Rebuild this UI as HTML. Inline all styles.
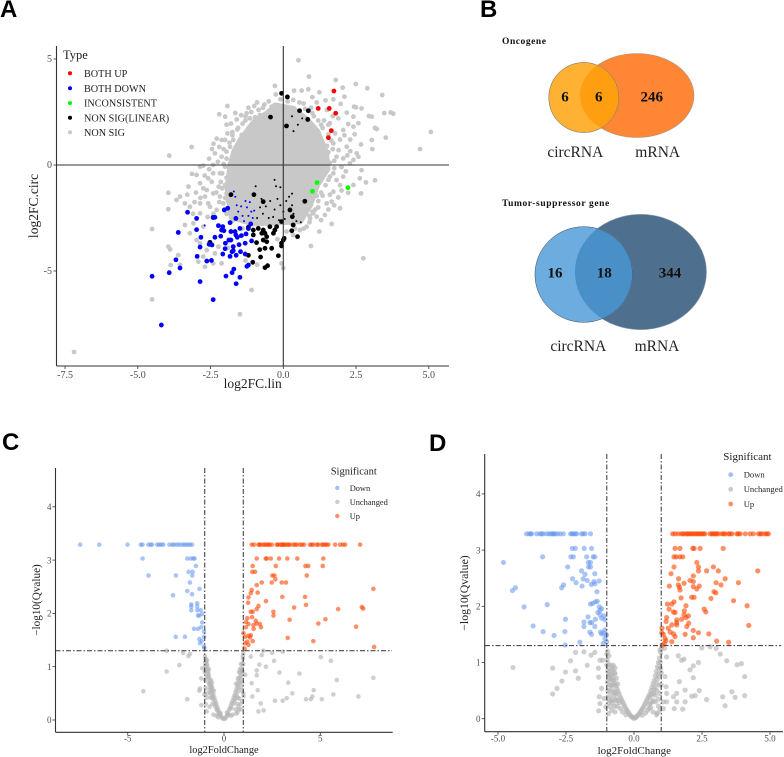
<!DOCTYPE html>
<html lang="en">
<head>
<meta charset="utf-8">
<title>circRNA and mRNA expression panels</title>
<style>
html,body{margin:0;padding:0;background:#fff;width:784px;height:757px;overflow:hidden}
svg{display:block;filter:blur(.35px)}
text{font-family:"Liberation Serif",serif}
.panel-letter{font-family:"Liberation Sans",sans-serif;font-weight:700;font-size:24px;fill:#000}
</style>
</head>
<body>
<svg id="fig" xmlns="http://www.w3.org/2000/svg" width="784" height="757" viewBox="0 0 784 757">
  <rect width="784" height="757" fill="#fff"/>
  <text class="panel-letter" x="0" y="17">A</text>
  <text class="panel-letter" x="480" y="17">B</text>
  <text class="panel-letter" x="2" y="450">C</text>
  <text class="panel-letter" x="429" y="451">D</text>

  <g id="panelA"></g>

  <g>
    <text x="63" y="59" font-size="12.5" fill="#222">Type</text>
    <circle cx="70" cy="73.3" r="2" fill="#ff0000"/>
    <text x="84" y="77" font-size="10.2" fill="#222">BOTH UP</text>
    <circle cx="70" cy="88.3" r="2" fill="#0000ff"/>
    <text x="84" y="92" font-size="10.2" fill="#222">BOTH DOWN</text>
    <circle cx="70" cy="103" r="2" fill="#00ff00"/>
    <text x="84" y="106.700" font-size="10.2" fill="#222">INCONSISTENT</text>
    <circle cx="70" cy="117.700" r="2" fill="#000"/>
    <text x="84" y="121.400" font-size="10.2" fill="#222">NON SIG(LINEAR)</text>
    <circle cx="70" cy="132.300" r="2" fill="#c8c8c8"/>
    <text x="84" y="136" font-size="10.2" fill="#222">NON SIG</text>
  </g>
  <text x="252.700" y="388" font-size="13.500" text-anchor="middle" fill="#222">log2FC.lin</text>
  <text transform="translate(38 206) rotate(-90)" font-size="13.500" text-anchor="middle" fill="#222">log2FC.circ</text>

  <g>
    <defs>
      <clipPath id="oncoClip"><circle cx="583.800" cy="97.500" r="35"/></clipPath>
      <clipPath id="tumorClip"><ellipse cx="583.700" cy="274.500" rx="48.700" ry="47.800"/></clipPath>
    </defs>
    <text x="502" y="44" font-size="9.500" font-weight="700" fill="#111" letter-spacing=".55">Oncogene</text>
    <ellipse cx="637" cy="95.500" rx="57" ry="42" fill="#ff8634" stroke="#a89a8c" stroke-width=".6"/>
    <circle cx="583.800" cy="97.500" r="35" fill="#ffb133" stroke="#a89a8c" stroke-width=".6"/>
    <ellipse cx="637" cy="95.500" rx="57" ry="42" fill="#ff9e10" clip-path="url(#oncoClip)"/>
    <circle cx="583.800" cy="97.500" r="35" fill="none" stroke="#8a7a60" stroke-width=".5"/>
    <text x="565" y="101.500" font-size="15" font-weight="700" text-anchor="middle" fill="#111">6</text>
    <text x="598.700" y="101.500" font-size="15" font-weight="700" text-anchor="middle" fill="#111">6</text>
    <text x="651.700" y="101.500" font-size="15" font-weight="700" text-anchor="middle" fill="#111">246</text>
    <text x="575.300" y="157" font-size="15.500" text-anchor="middle" fill="#222">circRNA</text>
    <text x="657.700" y="157" font-size="15.500" text-anchor="middle" fill="#222">mRNA</text>
  </g>
  <g>
    <text x="502" y="206" font-size="9.500" font-weight="700" fill="#111" letter-spacing=".6">Tumor-suppressor gene</text>
    <ellipse cx="640.700" cy="272" rx="65.800" ry="57.700" fill="#4f6f8e" stroke="#9aa4ad" stroke-width=".6"/>
    <ellipse cx="583.700" cy="274.500" rx="48.700" ry="47.800" fill="#6dacdf" stroke="#9aa4ad" stroke-width=".6"/>
    <ellipse cx="640.700" cy="272" rx="65.800" ry="57.700" fill="#4a90c8" clip-path="url(#tumorClip)"/>
    <ellipse cx="583.700" cy="274.500" rx="48.700" ry="47.800" fill="none" stroke="#3a5a78" stroke-width=".5"/>
    <text x="555" y="277.500" font-size="15" font-weight="700" text-anchor="middle" fill="#111">16</text>
    <text x="604.300" y="277.500" font-size="15" font-weight="700" text-anchor="middle" fill="#111">18</text>
    <text x="670" y="277.500" font-size="15" font-weight="700" text-anchor="middle" fill="#111">344</text>
    <text x="578.300" y="351" font-size="15.500" text-anchor="middle" fill="#222">circRNA</text>
    <text x="657" y="351" font-size="15.500" text-anchor="middle" fill="#222">mRNA</text>
  </g>

  <g id="panelC"></g>
  <g>
    <text x="330.700" y="474.300" font-size="10.500" fill="#222">Significant</text>
    <circle cx="337.300" cy="488" r="2.200" fill="#6495ed" fill-opacity=".6"/>
    <text x="349.700" y="490.800" font-size="8.400" fill="#222">Down</text>
    <circle cx="337.300" cy="502" r="2.200" fill="#b5b5b5" fill-opacity=".7"/>
    <text x="349.700" y="504.800" font-size="8.400" fill="#222">Unchanged</text>
    <circle cx="337.300" cy="516" r="2.200" fill="#ff4500" fill-opacity=".6"/>
    <text x="349.700" y="518.800" font-size="8.400" fill="#222">Up</text>
  </g>
  <text x="224" y="753" font-size="10.400" text-anchor="middle" fill="#222">log2FoldChange</text>
  <text transform="translate(40 600) rotate(-90)" font-size="11.200" text-anchor="middle" fill="#222">−log10(Qvalue)</text>

  <g id="panelD"></g>
  <g>
    <text x="723.300" y="460" font-size="11" fill="#222">Significant</text>
    <circle cx="730.700" cy="474.700" r="2.400" fill="#6495ed" fill-opacity=".6"/>
    <text x="743.700" y="477.500" font-size="8.600" fill="#222">Down</text>
    <circle cx="730.700" cy="489.300" r="2.400" fill="#b5b5b5" fill-opacity=".7"/>
    <text x="743.700" y="492.100" font-size="8.600" fill="#222">Unchanged</text>
    <circle cx="730.700" cy="504" r="2.400" fill="#ff4500" fill-opacity=".6"/>
    <text x="743.700" y="506.800" font-size="8.600" fill="#222">Up</text>
  </g>
  <text x="634.300" y="754" font-size="11" text-anchor="middle" fill="#222">log2FoldChange</text>
  <text transform="translate(468 593) rotate(-90)" font-size="11.800" text-anchor="middle" fill="#222">−log10(Qvalue)</text>
</svg>

<script>
// ---------- Panel A data (log2FC.lin, log2FC.circ) ----------
const aXTicks = [-7.5, -5, -2.5, 0, 2.5, 5];
const aXTickLabels = ['-7.5', '-5.0', '-2.5', '0.0', '2.5', '5.0'];
const aYTicks = [-5, 0, 5];
const aYTickLabels = ['-5', '0', '5'];
// Outline of the saturated central region where grey points fully overplot.
const aGreyCloudOutline = [[-1.95,-1.1],[-1.85,0],[-1.7,0.7],[-1.5,1.2],[-1.2,1.75],[-1,2.1],[-0.6,2.45],[-0.25,2.85],[0.35,2.7],[0.85,2.15],[1.2,1.6],[1.5,0.6],[1.55,-0.2],[1.2,-0.95],[0.95,-1.9],[0.6,-2.7],[-1.05,-2.8],[-1.8,-2.5]];
const aNonSig = [[0.52,4.94],[0.88,4.17],[1.8,4.01],[2.49,3.82],[2.89,3.62],[3.4,3.3],[2.04,3.65],[1.24,3.43],[2.1,3.22],[1.72,3.1],[1.97,2.88],[2.43,2.75],[2.5,2.72],[2.18,2.47],[2.69,2.67],[2.94,2.31],[3.04,2.28],[3.47,2.45],[3.69,2.48],[3.78,2.42],[5.07,1.56],[4.7,0.75],[3.52,1.29],[3.15,1.75],[3.21,1.7],[3.04,1.18],[3.06,0.75],[2.67,0.97],[2.58,1.97],[2.41,2.28],[2.23,1.93],[2.41,1.81],[2.06,1.65],[1.89,2.2],[1.6,1.97],[1.78,1.49],[2.18,0.86],[2.52,0.55],[2.58,0.39],[1.72,1.02],[1.83,0.39],[2.06,0.31],[2.29,0.08],[2.41,0.24],[2.69,-0.24],[3.15,-0.72],[2.84,-0.82],[2.63,-0.63],[2.67,-1.34],[2.23,-1.31],[1.95,-2.04],[1.89,-1.53],[1.66,-1.73],[1.49,-1.81],[1.72,-1.26],[1.43,-2.36],[1.66,-2.78],[1.24,-3.14],[0.95,-3.82],[2.75,-4.4],[2.41,-0.94],[2.06,-0.55],[1.72,-0.39],[1.83,-0.71],[1.5,0.9],[1.3,1.2],[1.55,0.6],[1.6,0.1],[1.55,-0.7],[1.3,-1.3],[1.2,-1.7],[1.1,-2.1],[0.9,-2.4],[1.3,1.9],[1.05,2.3],[0.7,2.9],[0.95,2.7],[1.4,2.1],
[-0.29,3.73],[-0.26,3.33],[0.37,3.51],[0.63,3.51],[0.86,3.57],[0.34,3.07],[-0.4,2.75],[-0.29,2.83],[-1,2.78],[-1.92,2.78],[-2.2,2.39],[-2,2.28],[-1.26,2.44],[-0.8,2.36],[-0.97,2.25],[-0.92,2.04],[-1.2,1.73],[-1.58,1.68],[-1.92,1.49],[-2.29,1.24],[-2.12,1.18],[-2,1.18],[-3.15,0.85],[-3.92,0.44],[-1.43,1.42],[-1.49,1.18],[-1.72,1.18],[-1.83,0.86],[-1.95,0.63],[-2.12,0.39],[-2.41,0],[-2.75,-0.03],[-2.86,-0.08],[-3.14,-0.42],[-2.98,-0.47],[-2.41,-0.39],[-2.18,-0.39],[-2,-0.08],[-1.83,0.08],[-1.72,-0.24],[-2.58,-0.63],[-2.46,-0.79],[-2.86,-0.86],[-3.26,-1.02],[-3.95,-1.31],[-3.55,-1.49],[-3.67,-1.65],[-3.38,-1.81],[-3.21,-1.97],[-3.95,-2.09],[-2.63,-1.18],[-2.41,-1.34],[-2.69,-1.49],[-2.58,-1.81],[-2.86,-1.81],[-2.18,-1.49],[-2.06,-1.81],[-2.29,-2.12],[-2.52,-1.97],[-2.86,-2.28],[-2.22,-1.02],[-2,-0.94],[-1.95,-1.34],[-1.75,1.4],[-1.6,0.9],[-1.7,0.5],[-1.85,-0.5],[-1.95,-0.6],[-2.1,-1.1],[-1.9,-1.7],[-1.85,-2.1],[-1.3,2.1],[-1.1,2.5],[-0.7,2.7],
[-4.51,-3.02],[-3.95,-3.85],[-3.89,-3.98],[-3.61,-4.25],[-3.87,-4.72],[-3.55,-4.72],[-2.92,-4.56],[-2.69,-4.8],[-2.41,-4.64],[-2.12,-4.64],[-4.51,-6.34],[-1.49,-7.04],[-1.09,-5.9],[-7.19,-8.82],[0,-4.87],[-0.06,-4.64],[-2.75,-2.91],[-3.09,-2.75],[-3.38,-2.83],[-3.21,-3.22],[-2.86,-3.69],[-2.63,-4.01],[-2.23,-3.85],[-2.35,-4.17],[-2.98,-3.54],[-2.75,-4.32],[1.03,-2.28],[1.15,-2.44],[0.92,-2.52],[0.8,-2.91],[0.57,-3.07],[0.34,-3.3],[0.11,-3.14],[-0.2,-3.5],[-1.4,-3],[-1.9,-3.9],[-1.3,-4.5],[-0.9,-4.7]];
const aNonSigEdge = [[-1.95,0.3],[-2.05,0.75],[-1.85,1.05],[-1.75,1.55],[-1.55,1.75],[-1.4,1.95],[-1.3,2.3],[-1.15,2.2],[-0.85,2.6],[-0.65,2.85],[-0.5,3],[-0.1,3.1],[0.15,3],[0.55,2.95],[0.75,2.65],[1,2.45],[1.2,2.1],[1.35,1.75],[1.55,1.45],[1.65,1.15],[1.7,0.75],[1.75,0.2],[1.75,-0.15],[1.6,-0.55],[1.45,-0.95],[1.35,-1.45],[1.15,-1.45],[1.2,-2],[1,-2.2],[0.9,-2.7],[0.7,-3],[0.4,-3],
[-2.15,-0.8],[-2.3,-1.3],[-2.2,-1.75],[-2,-2.1],[-2.1,-0.4],[-2.05,0.05],[-2.25,0.15],[-2.35,0.55],[-2.55,0.3],[-2,-1.55],[-1.95,-2.3],[-1.75,-2.65],[-2.7,-0.5],[-2.75,-1.1],[-3,-1.3],[-2.85,-1.55],[-3.05,-1.75],[-2.4,-2.3],[-2.6,-2.45],[-3.1,-2.3],[-3.3,-1.4],[-2.55,-0.2],[-1.8,1.95],[-1.6,2.15],[-2.4,1],[-2.2,0.85],[-2.45,0.75],[-1.95,1.9],[-1.65,2.45],[-1.45,2.35],[-1.2,2.7],[-0.9,2.95],
[1.95,1.2],[2.1,1.4],[1.9,0.7],[2.2,0.45],[2,-0.1],[2.15,-0.3],[1.95,-0.95],[2,-1.2],[1.6,-1.4],[1.75,-1.9],[1.55,-2.1],[1.3,-2.6],[2.3,1.2],[2.45,1.45],[2.3,0.65],[1.55,1.9],[1.7,2.3],[1.5,2.6],[1.15,2.95],[1,3.2],[1.45,3.05]];
const aBothDown = [[-3.29,-2.23],[-2.98,-2.52],[-2.98,-3.05],[-3.61,-3.18],[-2.83,-3.41],[-2.86,-3.87],[-2.96,-4.31],[-3.69,-4.47],[-3.55,-4.86],[-3.92,-5.08],[-4.51,-5.25],[-2.86,-5.5],[-2.63,-4.53],[-2.47,-4.5],[-2.41,-6.35],[-4.19,-7.55],[-1.97,-5.24],[-1.76,-5.08],[-1.7,-4.91],[-1.49,-5.3],[-1.62,-5.6],[-1.25,-4.78],[-1.2,-4.72],[-2.08,-4.2],[-1.83,-4.31],[-1.76,-4.09],[-1.72,-4.04],[-1.62,-4.26],[-1.47,-4.09],[-1.31,-4.2],[-2,-3.95],[-1.99,-3.69],[-1.87,-3.54],[-1.8,-3.54],[-1.72,-3.85],[-1.52,-3.76],[-1.31,-3.69],[-1.09,-3.58],[-2.35,-3.41],[-2.15,-3.36],[-2.12,-3.07],[-2.04,-3.1],[-2.08,-2.91],[-2.23,-2.86],[-2.35,-2.47],[-2.41,-2.47],[-2.03,-2.12],[-1.91,-2.04],[-1.83,-2.72],[-1.63,-2.52],[-1.49,-2.99],[-1.66,-3.14],[-1.63,-3.3],[-1.44,-3.33],[-1.28,-3.25],[-1.2,-3],[-1.12,-2.78],[-1.8,-3.14],[-1.58,-3.41],[-2.55,-3.74],[-2.45,-3.77]];
const aBothDownPartial = [[-1.7,-1.25],[-1.65,-1.5],[-1.6,-1.9],[-1.55,-2.2],[-1.45,-1.95],[-1.4,-2.4],[-1.3,-1.7],[-1.25,-2],[-1.2,-2.4],[-1.15,-1.75],[-1.1,-2.2],[-1.05,-2.5],[-1,-2.15],[-1.35,-2.65],[-2.7,-2.85]];
const aNonSigLinear = [[-0.06,3.38],[0.14,3.21],[0.56,2.56],[0.86,2.56],[0.84,2.15],[-0.44,2.26],[0.11,1.84],[-1.8,-1.4],[-1.01,-1.4],[0.74,-1.71],[-0.69,-1.73],[-2.41,-2.48],[-2.52,-3.65],[0.49,-3.38],[0.03,-3.46],[-0.06,-3.82],[-0.17,-4.28],[-0.63,-4.84],[-0.54,-4.75],[-1.05,-4.59],[-0.78,-4.34],[-1.2,-4.26],[-0.81,-3.99],[-0.63,-3.93],[-0.4,-3.93],[-0.92,-3.66],[-0.69,-3.54],[-0.57,-3.62],[-0.63,-3.22],[-0.34,-3.22],[-0.23,-2.91],[-0.06,-2.67],[0.29,-3.1],[0.34,-2.83],[0.31,-2.44],[0.23,-2.12],[-1.2,-2.94],[-1.03,-3.07],[-0.86,-2.99],[-0.69,-3.07],[-0.46,-2.91],[-0.29,-3.07],[0,-3.54],[-0.06,-3.69],[-0.57,-3.38],[-0.74,-3.22],[-1.03,-3.3]];
const aNonSigLinearPartial = [[-0.95,-1],[-0.75,-1.6],[-0.6,-1.95],[-0.45,-1.7],[-0.3,-2.1],[-0.2,-1.6],[-0.1,-1.9],[0,-2.2],[0.1,-1.7],[0.2,-1.5],[0.3,-1.35],[0.3,-1.9],[-0.7,-2.3],[-0.5,-2.5],[-0.35,-2.45],[-0.15,-2.6],[0.05,-2.55],[0.35,-2.3],[0.45,-2.65],[0.6,-2.7],[-0.9,-2.5],[-0.3,-0.7],[-0.25,-1],[-0.1,-1.05],[-0.8,-2],[0.5,1.9],[0.3,2.3],[0.35,1.6],[0.65,2.2]];
const aBothUp = [[1.74,3.49],[1.2,2.67],[1.58,2.67],[1.8,2.44],[1.65,1.62],[1.55,1.29]];
const aInconsistent = [[1.16,-0.83],[1,-1.24],[2.22,-1.07]];

// ---------- Panel C data (log2FoldChange, -log10 Qvalue) ----------
const qValueCap = 3.29;
const cXTicks = [-5, 0, 5];
const cXTickLabels = ['-5', '0', '5'];
const cYTicks = [0, 1, 2, 3, 4];
const cYTickLabels = ['0', '1', '2', '3', '4'];
const cDownAtCapX = [-7.47,-6.48,-5.01,-4.32,-4.23,-3.93,-3.81,-3.74,-3.47,-3.36,-3.26,-3.15,-2.84,-2.69,-2.6,-2.46,-2.34,-2.2,-2.08,-1.98,-1.87,-1.77,-1.66];
const cDown = [[-4.23,3.03],[-1.91,3.03],[-1.72,3.03],[-1.59,3.03],[-1.53,3.03],[-1.46,2.89],[-1.84,2.78],[-1.63,2.78],[-3.92,2.71],[-2.5,2.71],[-1.65,2.71],[-1.77,2.58],[-1.27,2.46],[-1.91,2.42],[-1.66,2.36],[-2.65,2.34],[-1.39,2.19],[-1.7,2.17],[-1.39,2.13],[-1.7,2.13],[-1.7,2.06],[-1.39,2.06],[-1.21,2.06],[-1.35,1.96],[-1.28,1.96],[-1.13,1.99],[-1.13,1.83],[-1.18,1.74],[-1.56,1.71],[-1.35,1.71],[-2.51,1.56],[-2.03,1.56],[-1.04,1.66],[-1.04,1.56],[-1.28,1.52],[-1.16,1.48],[-1.25,1.44],[-1.04,1.38],[-1.02,1.35]];
const cUpAtCapX = [1.44,1.56,1.79,1.91,2.05,2.22,2.36,2.48,2.74,2.91,3.05,3.17,3.29,3.43,3.6,3.78,3.95,4.16,4.47,4.64,4.82,5.08,5.25,5.42,5.77,6.03,6.17,6.29,7.07,1.85,2.12,2.3,2.8,3,3.1,3.35,3.7,4.05,4.55,4.9,5.15,5.33];
const cUp = [[1.7,3.03],[2.17,3.03],[2.22,3.03],[2.43,3.03],[2.86,3.03],[3.29,3.03],[3.81,3.03],[5.16,3.03],[1.49,2.89],[2.69,2.89],[4.23,2.89],[4.38,2.89],[5.13,2.89],[1.47,2.78],[1.61,2.78],[2.51,2.71],[2.62,2.71],[4.3,2.71],[2.67,2.64],[1.7,2.53],[1.96,2.58],[2.48,2.58],[3,2.58],[3.22,2.58],[1.44,2.44],[1.39,2.38],[1.75,2.39],[3.03,2.31],[4.21,2.31],[1.27,2.3],[1.25,2.2],[1.79,2.14],[2.18,2.23],[4.26,2.16],[1.7,2.08],[1.49,2.03],[1.39,2.03],[2.57,2.03],[3.64,2.11],[5.93,2.08],[7.16,2.12],[7.23,2.09],[7.76,2.46],[2.57,1.96],[1.21,1.91],[1.14,1.84],[1.46,1.93],[1.65,1.86],[1.27,1.8],[1.7,1.81],[1.53,1.78],[1.87,1.8],[1.92,1.74],[1.54,1.71],[1.13,1.74],[3.41,1.88],[4.9,1.81],[5.27,1.89],[6.86,1.75],[1.01,1.63],[1.09,1.56],[1.35,1.55],[1.27,1.58],[1.39,1.59],[1.49,1.48],[1.21,1.47],[1.09,1.44],[1.27,1.41],[1.07,1.34],[3.31,1.54],[4.64,1.48],[7.8,1.37]];
const cUnchanged = [[-4.19,0.54],[-2.98,0.91],[-2.32,1.03],[-2.13,1.26],[-1.85,1.2],[-1.77,1.24],[-2.98,1.3],[-1.91,0.39],[-1.25,0.59],[-1.18,0.28],[-0.9,0.16],[-1.28,0.55],[-1.13,0.97],[-1.18,0.78],
[1.39,1.19],[1.44,0.69],[1.47,0.44],[1.75,0.56],[1.79,0.16],[1.91,0.31],[2.06,0.18],[1.7,0.93],[1.7,0.84],[1.84,1.04],[2.18,1],[1.96,1.22],[2.05,1.3],[2.5,1.26],[2.6,1.11],[3.05,1.28],[2.88,0.89],[2.65,0.36],[3.05,0.36],[3.26,0.41],[3.34,0.7],[3.55,0.5],[3.92,0.87],[4.26,0.39],[4.51,0.39],[4.59,0.44],[4.66,0.56],[5.08,0.39],[5.03,1.18],[5.55,1.11],[5.86,0.75],[5.68,0.48],[6.98,0.44],[7.76,0.79],
[-0.05,0.02],[-0.1,0.04],[-0.15,0.07],[-0.2,0.1],[-0.25,0.14],[-0.3,0.2],[-0.35,0.25],[-0.4,0.31],[-0.45,0.36],[-0.5,0.42],[-0.55,0.48],[-0.6,0.55],[-0.65,0.6],[-0.68,0.63],[-0.7,0.66],[-0.72,0.7],[-0.75,0.75],[-0.78,0.8],[-0.8,0.86],[-0.83,0.92],[-0.85,0.97],[-0.88,1.03],[-0.92,1.1],[-0.95,1.15],[-0.99,1.2],[-0.62,0.62],[-0.58,0.45],[-0.75,0.56],[-0.8,0.7],[-0.85,0.5],[-0.9,0.42],[-0.95,0.6],[-0.98,0.75],[-1,0.9],[-0.97,1.02],[-0.4,0.08],[-0.3,0.05],[-0.55,0.1],[-0.6,0.3],[-0.75,0.25],[-0.9,0.8],[-0.93,0.95],[-0.88,1.12],[-0.7,0.5],[-0.55,0.38],[-0.45,0.25],[-0.35,0.18],[-0.65,0.52],[-0.62,0.7],[-0.68,0.75],[-0.78,0.95],[-0.18,0.13],[-0.28,0.12],[-0.38,0.2],[-0.48,0.3],[-0.52,0.55],[-0.72,0.6],[-0.82,0.82],[-0.76,0.66],[-0.86,0.88],[-0.9,1.05],[-0.98,1.08],[-0.95,0.3],[-1.02,0.48],[-0.7,0.42],[-0.62,0.42],
[0.05,0.02],[0.1,0.05],[0.15,0.08],[0.2,0.12],[0.25,0.18],[0.3,0.22],[0.35,0.27],[0.4,0.32],[0.45,0.36],[0.5,0.42],[0.55,0.47],[0.6,0.53],[0.65,0.59],[0.7,0.66],[0.75,0.73],[0.8,0.8],[0.85,0.88],[0.9,0.97],[0.95,1.06],[0.98,1.15],[1,1.25],[0.6,0.2],[0.7,0.15],[0.75,0.25],[0.85,0.3],[0.9,0.55],[0.95,0.7],[1,1.05],[0.98,1.2],[1,0.5],[1.1,0.85],[1.02,0.45],[0.65,0.45],[0.7,0.52],[0.75,0.6],[0.8,0.68],[0.85,0.75],[0.9,0.82],[0.92,0.9],[0.7,0.3],[0.8,0.4],[0.65,0.12],[0.55,0.35],[0.45,0.1],[0.35,0.08],[0.78,0.9],[0.15,0.14],[0.25,0.1],[0.38,0.22],[0.48,0.3],[0.58,0.4],[0.62,0.68],[0.72,0.78],[0.82,0.95],[0.88,1.05],[0.95,0.92],[0.9,0.2],[0.95,0.35],[0.78,0.2],[0.72,0.42],[0.88,0.62]];

// ---------- Panel D data (log2FoldChange, -log10 Qvalue) ----------
const dXTicks = [-5, -2.5, 0, 2.5, 5];
const dXTickLabels = ['-5.0', '-2.5', '0.0', '2.5', '5.0'];
const dYTicks = [0, 1, 2, 3, 4];
const dYTickLabels = ['0', '1', '2', '3', '4'];
const dDownAtCapX = [-3.95,-3.85,-3.77,-3.58,-3.46,-3.34,-3.21,-3.12,-2.99,-2.91,-2.82,-2.72,-2.6,-2.33,-2.23,-2.11,-1.93,-1.8,-1.6,-3.8,-3.4,-3.05,-2.95,-2.28,-2.16,-1.87];
const dDown = [[-2.27,3.03],[-2.16,3.03],[-1.83,3.03],[-1.56,3.03],[-3.36,2.88],[-2.32,2.88],[-2.23,2.88],[-1.74,2.88],[-1.5,2.88],[-1.44,2.88],[-4.8,2.78],[-1.68,2.78],[-1.6,2.78],[-2.44,2.7],[-1.67,2.7],[-1.6,2.7],[-1.93,2.63],[-1.8,2.57],[-1.44,2.58],[-2.26,2.49],[-1.87,2.49],[-1.72,2.46],[-1.28,2.45],[-1.47,2.44],[-2.13,2.42],[-1.44,2.4],[-1.91,2.36],[-1.57,2.39],[-2.59,2.38],[-2.66,2.33],[-4.36,2.33],[-4.47,2.28],[-1.36,2.26],[-1.52,2.05],[-1.42,2.08],[-1.35,2.09],[-1.6,2.04],[-4.04,1.99],[-3.19,2.03],[-1.28,1.99],[-1.19,1.96],[-1.25,1.93],[-1.33,1.89],[-1.25,1.85],[-1.1,1.83],[-2.52,1.77],[-1.69,1.81],[-1.84,1.72],[-1.62,1.71],[-1.56,1.71],[-1.42,1.77],[-1.19,1.79],[-1.07,1.76],[-3.71,1.65],[-1.84,1.64],[-1.44,1.64],[-3.34,1.55],[-2.54,1.55],[-1.62,1.54],[-1.23,1.54],[-1.1,1.52],[-2.94,1.48],[-1.56,1.5],[-1.07,1.58],[-1.01,1.49],[-1.07,1.43],[-1.99,1.36],[-1.13,1.34],[-1.01,1.37],[-2.53,1.31],[-1.19,1.51]];
const dUpAtCapX = [1.42,1.51,1.63,1.75,1.88,2,2.12,2.25,2.37,2.49,2.61,2.8,2.92,3.04,3.23,3.35,3.47,3.6,3.78,3.9,4.09,4.27,4.39,4.58,4.7,4.82,4.94,1.8,1.95,2.06,2.18,2.31,2.43,2.55,2.86,2.98,3.1,3.29,3.53,3.84,4.64,4.88];
const dUp = [[1.51,3.03],[1.69,3.03],[2.16,3.03],[2.21,3.03],[2.43,3.03],[3.28,3.03],[1.47,2.88],[1.55,2.88],[1.69,2.88],[1.79,2.88],[2.31,2.78],[2.37,2.7],[1.47,2.7],[2.92,2.7],[3.1,2.63],[4.55,2.63],[1.36,2.58],[2.18,2.54],[2.37,2.63],[2.67,2.63],[1.64,2.49],[1.3,2.36],[1.63,2.38],[1.67,2.34],[1.69,2.29],[1.84,2.41],[2.06,2.46],[2.18,2.44],[2.18,2.35],[2.31,2.31],[2.4,2.36],[3.35,2.49],[3.02,2.42],[3.2,2.38],[3.84,2.42],[2.94,2.26],[3.01,2.24],[2.12,2.16],[2.21,2.16],[1.73,2.15],[1.47,2.08],[1.39,2.04],[1.23,2.04],[2.83,2.14],[3.66,2.1],[4.16,2.01],[1.91,2.01],[1.29,1.95],[2.58,1.95],[2.64,1.9],[1.45,1.9],[1.51,1.89],[1.85,1.92],[1.84,1.85],[1.91,1.8],[2,1.83],[1.2,1.8],[1.18,1.73],[1.57,1.76],[1.75,1.77],[1.57,1.71],[1.39,1.67],[1.26,1.61],[1.57,1.67],[2.01,1.7],[1.94,1.64],[4.22,1.66],[1.03,1.61],[1.02,1.53],[1.08,1.5],[1.33,1.54],[1.45,1.51],[1.88,1.5],[2.18,1.57],[2.37,1.53],[2.75,1.51],[1.51,1.46],[2.18,1.44],[1.14,1.43],[1.17,1.39],[1.39,1.37],[3.04,1.38],[3.48,1.36],[1.12,1.34],[1.04,1.31]];
const dUnchanged = [[-4.45,0.91],[-2.99,0.9],[-2.99,0.44],[-2.83,0.54],[-2.65,0.67],[-2.52,0.83],[-2.33,1.03],[-2.15,1.18],[-2.15,0.85],[-1.84,1.19],[-2.05,0.72],[-1.72,0.95],[-1.58,1.13],[-1.44,1.18],[-1.31,0.9],[-1.3,0.74],[-1.25,1.04],[-1.15,1.04],[-1.19,0.54],[-1.28,0.39],[-1.25,0.27],[-1.3,0.14],[-1.1,0.36],[-1.03,0.21],[-0.94,0.09],
[1.12,1.25],[1.2,1.1],[1.14,0.75],[1.63,1.12],[1.75,1.04],[1.84,1.06],[1.67,0.66],[1.18,0.57],[1.2,0.45],[1.45,0.39],[1.57,0.45],[1.88,0.51],[1.57,0.3],[1.88,0.3],[1.79,0.17],[1.48,0.18],[2.12,0.4],[2.25,0.41],[2.4,0.5],[2.18,0.73],[2.06,0.87],[2.18,0.94],[2.37,1],[2.49,1.26],[2.8,1.28],[3.02,1.25],[3.17,1.15],[3.41,1.03],[3.79,0.96],[3.95,0.98],[4.07,0.75],[4.07,0.41],[3.6,0.48],[3.72,0.38],[3.26,0.39],[3.35,0.23],[2.67,0.34],[1.08,0.3],[1.2,0.3],[1.08,0.18],[0.83,0.07],
[-0.03,0.01],[-0.06,0.03],[-0.1,0.04],[-0.14,0.06],[-0.18,0.09],[-0.22,0.12],[-0.26,0.15],[-0.3,0.18],[-0.34,0.22],[-0.38,0.26],[-0.42,0.3],[-0.46,0.34],[-0.5,0.38],[-0.54,0.43],[-0.58,0.48],[-0.62,0.53],[-0.66,0.58],[-0.7,0.63],[-0.74,0.69],[-0.78,0.74],[-0.82,0.79],[-0.86,0.85],[-0.9,0.9],[-0.94,0.97],[-0.98,1.04],[-1,1.15],[-0.97,1.2],[-0.92,1.12],[-0.3,0.07],[-0.42,0.12],[-0.5,0.18],[-0.55,0.28],[-0.62,0.22],[-0.68,0.32],[-0.72,0.42],[-0.78,0.5],[-0.82,0.6],[-0.86,0.7],[-0.9,0.6],[-0.94,0.78],[-0.96,0.85],[-0.8,0.35],[-0.88,0.42],[-0.7,0.12],[-0.82,0.15],[-0.92,0.28],[-0.72,0.82],[-0.78,0.88],[-0.65,0.72],[-0.7,0.8],[-0.84,0.95],[-0.88,0.78],[-0.96,0.5],[-0.6,0.62],[-0.66,0.45],[-0.9,0.72],[-0.85,0.58],[-0.8,0.68],[-0.75,0.6],[-0.74,0.47],[-0.9,0.5],[-0.98,0.65],[-0.85,0.32],[-0.78,0.28],[-0.72,0.22],[-0.65,0.35],[-0.58,0.32],[-1,0.95],[-0.93,0.35],[-0.88,0.22],[-0.7,0.9],[-0.76,0.95],
[0.03,0.01],[0.06,0.02],[0.1,0.04],[0.14,0.06],[0.18,0.08],[0.22,0.11],[0.26,0.14],[0.3,0.17],[0.34,0.2],[0.38,0.24],[0.42,0.28],[0.46,0.32],[0.5,0.36],[0.54,0.4],[0.58,0.44],[0.62,0.5],[0.66,0.56],[0.7,0.62],[0.74,0.68],[0.78,0.76],[0.82,0.84],[0.86,0.92],[0.9,1],[0.94,1.08],[0.98,1.18],[1,1.25],[0.3,0.06],[0.42,0.1],[0.5,0.15],[0.56,0.25],[0.62,0.2],[0.68,0.3],[0.72,0.45],[0.78,0.55],[0.82,0.62],[0.88,0.8],[0.92,0.9],[0.96,1],[0.8,0.3],[0.9,0.22],[0.7,0.12],[0.85,0.1],[0.95,0.45],[1,0.6],[1,0.82],[0.96,1.22],[0.6,0.38],[0.66,0.44],[0.74,0.52],[0.78,0.42],[0.84,0.5],[0.85,0.7],[0.9,0.75],[0.6,0.28],[0.55,0.18],[0.72,0.32],[0.94,0.6],[0.98,0.9],[0.9,0.35],[0.95,0.15]];

// ---------- Axis functions ----------
const aX = v => 283.3 + v * 29.1;
const aY = v => 165 - v * 21.2;
const cX = v => 224 + v * 19.25;
const cY = v => 720 - v * 53.3;
const dX = v => 634 + v * 27.2;
const dY = v => 718.7 - v * 56.2;

const SVGNS = 'http://www.w3.org/2000/svg';

function drawPoints(parent, rows, xf, yf, r, fill, opacity, name) {
  rows.forEach(function (row) {
    const el = document.createElementNS(SVGNS, 'circle');
    el.setAttribute('cx', xf(row[0]).toFixed(2));
    el.setAttribute('cy', yf(row[1]).toFixed(2));
    el.setAttribute('r', r);
    el.setAttribute('fill', fill);
    el.setAttribute('fill-opacity', opacity);
    
    
    parent.appendChild(el);
  });
}

function drawLine(parent, x1, y1, x2, y2, stroke, width, dash, name) {
  const el = document.createElementNS(SVGNS, 'line');
  el.setAttribute('x1', x1);
  el.setAttribute('y1', y1);
  el.setAttribute('x2', x2);
  el.setAttribute('y2', y2);
  el.setAttribute('stroke', stroke);
  el.setAttribute('stroke-width', width);
  if (dash) el.setAttribute('stroke-dasharray', dash);
  
  
  parent.appendChild(el);
}

function drawLabel(parent, x, y, label, anchor, size, name) {
  const el = document.createElementNS(SVGNS, 'text');
  el.setAttribute('x', x);
  el.setAttribute('y', y);
  el.setAttribute('text-anchor', anchor);
  el.setAttribute('font-size', size);
  el.setAttribute('fill', '#4d4d4d');
  el.textContent = label;
  
  
  parent.appendChild(el);
}

function drawAxes(parent, box, xf, yf, xTicks, xLabels, yTicks, yLabels, size, xBase, yEnd) {
  drawLine(parent, box.left, box.top, box.left, box.bottom, '#333', 1.1, null, 'y-axis-line');
  drawLine(parent, box.left, box.bottom, box.right, box.bottom, '#333', 1.1, null, 'x-axis-line');
  xTicks.forEach(function (t, i) {
    drawLine(parent, xf(t), box.bottom, xf(t), box.bottom + 3, '#333', 0.8, null, 'x-tick');
    drawLabel(parent, xf(t), xBase, xLabels[i], 'middle', size, 'x-tick-label');
  });
  yTicks.forEach(function (t, i) {
    drawLine(parent, box.left - 3, yf(t), box.left, yf(t), '#333', 0.8, null, 'y-tick');
    drawLabel(parent, yEnd, yf(t) + 3.2, yLabels[i], 'end', size, 'y-tick-label');
  });
}

// ---------- Panel A ----------
const gA = document.getElementById('panelA');
const cloud = document.createElementNS(SVGNS, 'polygon');
cloud.setAttribute('points', aGreyCloudOutline.map(p => aX(p[0]).toFixed(1) + ',' + aY(p[1]).toFixed(1)).join(' '));
cloud.setAttribute('fill', '#c8c8c8');
cloud.setAttribute('stroke', '#c8c8c8');
cloud.setAttribute('stroke-width', '4');
cloud.setAttribute('stroke-linejoin', 'round');


gA.appendChild(cloud);
drawPoints(gA, aNonSig, aX, aY, 2.4, '#c8c8c8', 1, 'point-non-sig');
drawPoints(gA, aNonSigEdge, aX, aY, 2.4, '#c8c8c8', 1, 'point-non-sig-edge');
drawPoints(gA, aBothDownPartial, aX, aY, 1, '#0000ff', 1, 'point-both-down-partial');
drawPoints(gA, aNonSigLinearPartial, aX, aY, 1, '#000', 1, 'point-non-sig-linear-partial');
drawPoints(gA, aNonSigLinear, aX, aY, 2.4, '#000', 1, 'point-non-sig-linear');
drawPoints(gA, aBothDown, aX, aY, 2.4, '#0000ff', 1, 'point-both-down');
drawPoints(gA, aBothUp, aX, aY, 2.4, '#ff0000', 1, 'point-both-up');
drawPoints(gA, aInconsistent, aX, aY, 2.4, '#00ff00', 1, 'point-inconsistent');
drawLine(gA, aX(0), 46, aX(0), 366, '#333', 1.1, null, 'zero-line-vertical');
drawLine(gA, 56.5, aY(0), 449, aY(0), '#333', 1.1, null, 'zero-line-horizontal');
drawAxes(gA, {left: 56.5, right: 449, top: 46, bottom: 366}, aX, aY, aXTicks, aXTickLabels, aYTicks, aYTickLabels, 10, 378, 52);

// ---------- Panel C ----------
const gC = document.getElementById('panelC');
drawPoints(gC, cUnchanged, cX, cY, 2.3, '#b5b5b5', 0.65, 'point-unchanged');
drawPoints(gC, cDownAtCapX.map(v => [v, qValueCap]), cX, cY, 2.3, '#6495ed', 0.55, 'point-down-capped');
drawPoints(gC, cDown, cX, cY, 2.3, '#6495ed', 0.55, 'point-down');
drawPoints(gC, cUpAtCapX.map(v => [v, qValueCap]), cX, cY, 2.3, '#ff4500', 0.6, 'point-up-capped');
drawPoints(gC, cUp, cX, cY, 2.3, '#ff4500', 0.6, 'point-up');
drawLine(gC, cX(-1), 468, cX(-1), 732, '#333', 1, '5 2 1.500 2', 'threshold-fold-down');
drawLine(gC, cX(1), 468, cX(1), 732, '#333', 1, '5 2 1.500 2', 'threshold-fold-up');
drawLine(gC, 55.500, cY(1.3), 392, cY(1.3), '#333', 1, '5 2 1.500 2', 'threshold-qvalue');
drawAxes(gC, {left: 55.500, right: 392.700, top: 468, bottom: 732.300}, cX, cY, cXTicks, cXTickLabels, cYTicks, cYTickLabels, 9, 741.700, 51.500);

// ---------- Panel D ----------
const gD = document.getElementById('panelD');
drawPoints(gD, dUnchanged, dX, dY, 2.6, '#b5b5b5', 0.65, 'point-unchanged');
drawPoints(gD, dDownAtCapX.map(v => [v, qValueCap]), dX, dY, 2.6, '#6495ed', 0.55, 'point-down-capped');
drawPoints(gD, dDown, dX, dY, 2.6, '#6495ed', 0.55, 'point-down');
drawPoints(gD, dUpAtCapX.map(v => [v, qValueCap]), dX, dY, 2.6, '#ff4500', 0.6, 'point-up-capped');
drawPoints(gD, dUp, dX, dY, 2.6, '#ff4500', 0.6, 'point-up');
drawLine(gD, dX(-1), 454, dX(-1), 731, '#333', 1, '5 2 1.500 2', 'threshold-fold-down');
drawLine(gD, dX(1), 454, dX(1), 731, '#333', 1, '5 2 1.500 2', 'threshold-fold-up');
drawLine(gD, 485, dY(1.3), 781, dY(1.3), '#333', 1, '5 2 1.500 2', 'threshold-qvalue');
drawAxes(gD, {left: 484.700, right: 783, top: 454, bottom: 731.700}, dX, dY, dXTicks, dXTickLabels, dYTicks, dYTickLabels, 9, 741.700, 480.500);
</script>
</body>
</html>
